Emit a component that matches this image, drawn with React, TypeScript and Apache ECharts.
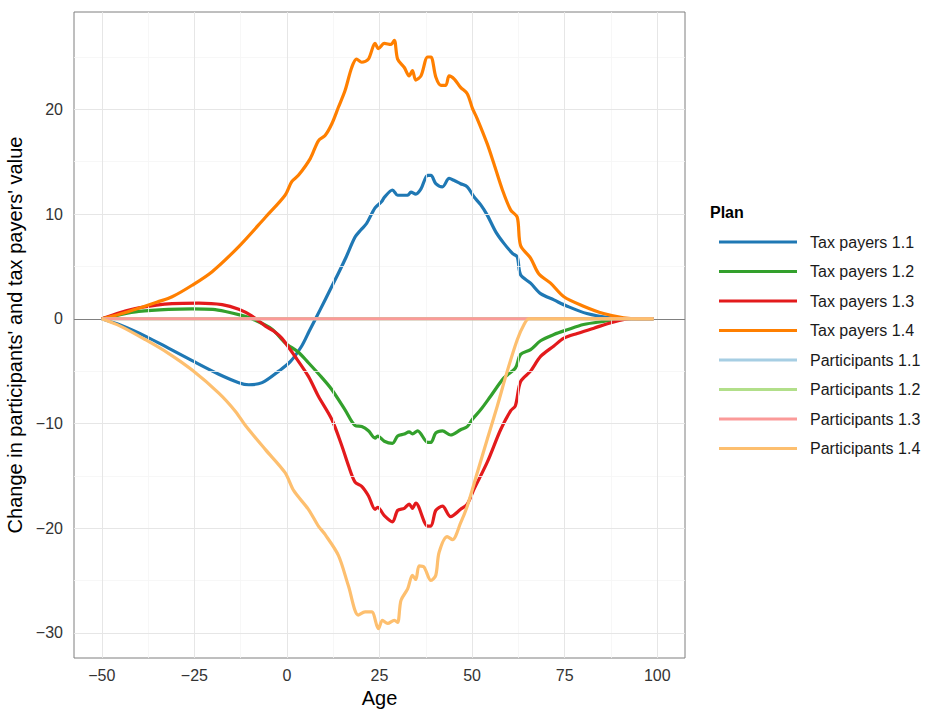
import React, { useEffect, useRef } from "react";
import * as echarts from "echarts";

type Pt = [number, number];

const seriesNames = [
  "Tax payers 1.1",
  "Tax payers 1.2",
  "Tax payers 1.3",
  "Tax payers 1.4",
  "Participants 1.1",
  "Participants 1.2",
  "Participants 1.3",
  "Participants 1.4",
];

const seriesColors = [
  "#1F78B4",
  "#33A02C",
  "#E31A1C",
  "#FF7F00",
  "#A6CEE3",
  "#B2DF8A",
  "#FB9A99",
  "#FDBF6F",
];

const xTicks = [-50, -25, 0, 25, 50, 75, 100];
const xMinor = [-37.5, -12.5, 12.5, 37.5, 62.5, 87.5];
const yTicks = [-30, -20, -10, 0, 10, 20];
const yMinor = [-25, -15, -5, 5, 15, 25];

const taxPayers11: Pt[] = [
  [-50, 0], [-45, -0.6], [-38, -1.7], [-32, -2.8], [-25.6, -4.0], [-18.4, -5.3],
  [-13, -6.1], [-10.3, -6.3], [-6.7, -6.1], [-2.2, -5.0], [0.9, -4.1], [4, -2.6],
  [6, -1.2], [7.6, -0.1], [10.3, 1.8], [13.9, 4.35], [16, 5.9], [18.4, 7.8],
  [20, 8.5], [21.5, 9.1], [23.8, 10.6], [25.6, 11.2], [26.3, 11.6], [28.5, 12.3],
  [29.9, 11.8], [32.6, 11.8], [33.5, 12.1], [34.8, 11.9], [36.2, 12.4], [38, 13.7],
  [38.9, 13.7], [40.2, 12.9], [42, 12.6], [43.8, 13.4], [45.2, 13.2], [46.9, 12.9],
  [48.7, 12.6], [50.5, 11.65], [52.3, 10.9], [54.1, 9.9], [56.4, 8.3], [58.6, 7.2],
  [60.9, 6.25], [62.2, 5.9], [63.1, 4.2], [65.8, 3.4], [68.5, 2.4], [72.1, 1.8],
  [75.7, 1.2], [81, 0.5], [87.3, 0.1], [92, 0], [99, 0],
];

const taxPayers12: Pt[] = [
  [-50, 0], [-45, 0.4], [-40, 0.7], [-32, 0.9], [-25.6, 0.95], [-20, 0.9],
  [-16.6, 0.7], [-12.5, 0.35], [-9.4, 0], [-4, -1.0], [-0.5, -2.3], [3.1, -3.2],
  [5.8, -4.2], [9.4, -5.6], [12.1, -6.75], [15.7, -8.7], [18.4, -10.2], [20.2, -10.3],
  [22, -10.7], [23.8, -11.4], [24.5, -11.2], [26.3, -11.7], [28.5, -11.9], [29.9, -11.2],
  [31.7, -11.0], [33, -10.8], [33.9, -11.0], [35.3, -10.7], [38, -11.8], [38.9, -11.8],
  [40.2, -10.9], [42, -10.7], [44.2, -11.1], [46.9, -10.6], [48.7, -10.3], [50.1, -9.6],
  [52.3, -8.7], [55, -7.4], [58.6, -5.65], [61.7, -4.7], [63.1, -3.4], [65.8, -2.95],
  [68.5, -2.1], [72.1, -1.5], [75.7, -1.05], [80.1, -0.55], [85.5, -0.25], [91, 0], [99, 0],
];

const taxPayers13: Pt[] = [
  [-50, 0], [-45, 0.6], [-40, 1.05], [-31, 1.45], [-23.8, 1.5], [-17.5, 1.35],
  [-13, 0.9], [-9.4, 0.25], [-5.8, -0.7], [-3.5, -1.2], [-1.4, -1.85], [2.2, -3.6],
  [5.8, -5.5], [8.5, -7.4], [12.1, -9.6], [14.8, -12.1], [16.6, -14.0], [18.4, -15.6],
  [20.2, -16.0], [22, -16.9], [23.8, -18.2], [24.5, -18.0], [26.3, -18.8], [28.5, -19.4],
  [29.9, -18.3], [31.7, -18.1], [33, -17.7], [33.9, -18.1], [34.8, -17.6], [38, -19.8],
  [38.9, -19.8], [40.2, -18.3], [42, -17.9], [44.2, -18.9], [46.9, -18.2], [48.7, -17.7],
  [50.5, -16.3], [54.1, -13.7], [57.7, -10.6], [60.4, -8.8], [61.7, -8.3], [63.1, -6.0],
  [65.8, -5.0], [68.5, -3.6], [72.1, -2.6], [74.8, -1.85], [78.4, -1.4], [82.9, -0.9],
  [87.3, -0.4], [93, 0], [99, 0],
];

const taxPayers14: Pt[] = [
  [-50, 0], [-45, 0.45], [-40, 1.0], [-35, 1.6], [-31, 2.1], [-25.6, 3.2],
  [-20.2, 4.5], [-13, 6.9], [-5.8, 9.7], [-0.5, 11.8], [1.3, 13.1], [3.1, 13.7],
  [6.3, 15.3], [8.5, 17.0], [10.3, 17.5], [12.1, 18.6], [13.9, 20.2], [15.7, 21.8],
  [17.5, 24.0], [18.8, 24.8], [20.2, 24.5], [22, 24.8], [23.8, 26.3], [24.7, 25.8],
  [26.3, 26.3], [28.1, 26.2], [29, 26.6], [29.9, 24.8], [31.7, 24.0], [33, 23.2],
  [33.9, 23.7], [34.8, 22.8], [36.2, 23.2], [38, 25.0], [38.9, 25.0], [40.2, 23.1],
  [41.6, 22.3], [42.9, 22.3], [43.8, 23.2], [45.2, 22.9], [46.9, 22.1], [48.7, 21.5],
  [50.1, 20.1], [51.4, 19.1], [54.1, 16.7], [55.9, 14.8], [58.2, 12.3], [60.4, 10.4],
  [62.2, 9.7], [63.1, 7.0], [65.8, 5.8], [68, 4.3], [71.2, 3.4], [74.8, 2.1],
  [80.1, 1.2], [85.5, 0.5], [90.9, 0.1], [95, 0], [99, 0],
];

const participants11: Pt[] = [[-50, 0], [99, 0]];
const participants12: Pt[] = [[-50, 0], [99, 0]];
const participants13: Pt[] = [[-50, 0], [99, 0]];

const participants14: Pt[] = [
  [-50, 0], [-45, -0.7], [-38.2, -2.0], [-32, -3.3], [-25.6, -4.9], [-18.4, -7.1],
  [-14, -8.8], [-11.2, -10.2], [-5.8, -12.5], [-0.5, -14.7], [1.8, -16.4], [5.8, -18.2],
  [8.5, -19.8], [10.3, -20.6], [13.9, -22.6], [16.6, -25.5], [19.3, -28.3], [21.1, -28.0],
  [22.9, -28.0], [24.7, -29.6], [25.8, -28.8], [27.2, -29.1], [29, -28.8], [29.9, -29.0],
  [30.8, -26.9], [32.6, -25.8], [33.9, -24.5], [34.8, -24.9], [35.7, -23.6], [37, -23.7],
  [38.9, -25.0], [40.2, -24.5], [41.1, -22.3], [43.3, -20.8], [44.7, -21.1], [46.9, -19.5],
  [48.7, -17.9], [51.4, -14.7], [54.1, -11.5], [56.8, -8.35], [59.5, -5.0], [62.2, -2.0],
  [64, -0.57], [65.4, 0], [99, 0],
];

const seriesData: Pt[][] = [
  taxPayers11, taxPayers12, taxPayers13, taxPayers14,
  participants11, participants12, participants13, participants14,
];

const FONT = "'Liberation Sans', Arial, Helvetica, sans-serif";
const minus = (v: number) => (v < 0 ? "\u2212" + Math.abs(v) : String(v));

export default function App() {
  const ref = useRef<HTMLDivElement>(null);
  useEffect(() => {
    document.body.style.margin = "0";
    if (!ref.current) return;
    const chart = echarts.init(ref.current, undefined, { renderer: "svg" });

    const gridLines = (axis: "xAxis" | "yAxis", vals: number[], color: string, width: number) =>
      vals.map((v) => ({
        [axis]: v,
        lineStyle: { color, width, type: "solid" },
      }));

    const option: any = {
      animation: false,
      textStyle: { fontFamily: FONT },
      grid: {
        left: 74,
        right: 246,
        top: 12,
        bottom: 53,
        show: true,
        borderColor: "#7f7f7f",
        borderWidth: 1,
        backgroundColor: "transparent",
        containLabel: false,
        outerBoundsMode: "none",
      },
      xAxis: {
        type: "value",
        min: -57.5,
        max: 107.5,
        name: "Age",
        nameLocation: "middle",
        nameGap: 28,
        nameTextStyle: { fontSize: 20, color: "#000", fontFamily: FONT },
        axisLine: { show: false },
        axisTick: {
          show: true,
          length: 5,
          lineStyle: { color: "#333" },
          customValues: xTicks,
        },
        axisLabel: {
          fontSize: 16,
          color: "#333",
          margin: 9,
          fontFamily: FONT,
          customValues: xTicks,
          formatter: (v: number) => minus(v),
        },
        splitLine: { show: false },
      },
      yAxis: {
        type: "value",
        min: -32.4,
        max: 29.3,
        name: "Change in participants' and tax payers' value",
        nameLocation: "middle",
        nameGap: 42,
        nameTextStyle: { fontSize: 20, color: "#000", fontFamily: FONT },
        axisLine: { show: false },
        axisTick: {
          show: true,
          length: 5,
          lineStyle: { color: "#333" },
          customValues: yTicks,
        },
        axisLabel: {
          fontSize: 16,
          color: "#333",
          margin: 11,
          fontFamily: FONT,
          customValues: yTicks,
          formatter: (v: number) => minus(v),
        },
        splitLine: { show: false },
      },
      legend: {
        orient: "vertical",
        left: 719,
        top: 234,
        icon: "rect",
        itemWidth: 78,
        itemHeight: 3,
        itemGap: 13.5,
        padding: 0,
        data: seriesNames,
        selectedMode: false,
        textStyle: {
          fontSize: 16,
          color: "#1a1a1a",
          fontFamily: FONT,
          lineHeight: 16,
          padding: [0, 0, 0, 8],
        },
      },
      graphic: [
        {
          type: "text",
          left: 710,
          top: 204,
          style: {
            text: "Plan",
            font: "bold 16px " + FONT,
            fill: "#000",
          },
        },
      ],
      series: [
        {
          name: "__grid",
          type: "line",
          data: [],
          silent: true,
          z: 0,
          markLine: {
            silent: true,
            symbol: "none",
            label: { show: false },
            animation: false,
            data: [
              ...gridLines("xAxis", xMinor, "#f5f5f5", 0.8),
              ...gridLines("yAxis", yMinor, "#f5f5f5", 0.8),
              ...gridLines("xAxis", xTicks, "#e6e6e6", 1),
              ...gridLines("yAxis", yTicks, "#e6e6e6", 1),
              { yAxis: 0, lineStyle: { color: "#808080", width: 1, type: "solid" } },
            ],
          },
        },
        ...seriesNames.map((name, i) => ({
          name,
          type: "line",
          data: seriesData[i],
          color: seriesColors[i],
          showSymbol: false,
          symbol: "none",
          smooth: 0.3,
          z: 2 + i,
          lineStyle: { width: 3.2, color: seriesColors[i], join: "round" },
          itemStyle: { color: seriesColors[i] },
          emphasis: { disabled: true },
        })),
      ],
    };
    chart.setOption(option);
    return () => chart.dispose();
  }, []);

  return <div ref={ref} style={{ width: 931, height: 711 }} />;
}
